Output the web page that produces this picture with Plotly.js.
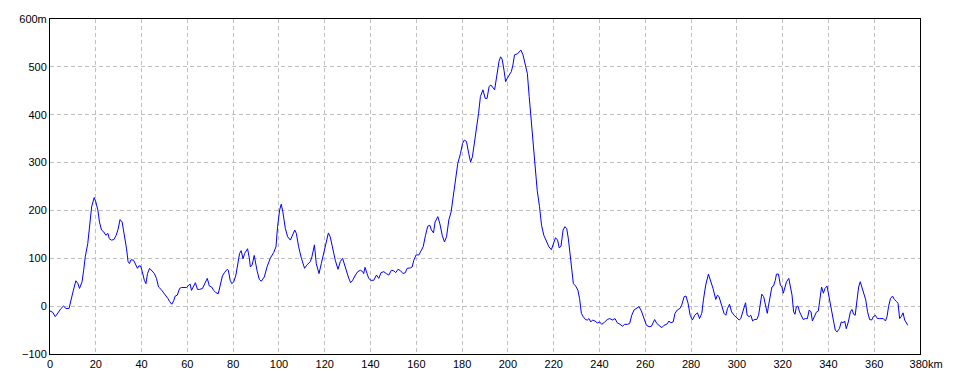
<!DOCTYPE html>
<html>
<head>
<meta charset="utf-8">
<script src="https://cdn.plot.ly/plotly-3.0.1.min.js"></script>
<style>html,body{margin:0;padding:0;background:#fff;}#chart{width:960px;height:384px;}</style>
</head>
<body>
<div id="chart"></div>
<script>
const distanceKm = [0,1.2,2.3,3.6,4.8,5.9,7,8.3,9.2,10.2,11.3,12.2,12.9,14,14.7,15.4,16.5,17.4,18.2,19.3,20,20.9,21.6,22.5,23.5,24.4,25.3,25.9,26.8,27.9,28.9,29.7,30.6,31.5,32.4,33.4,34.1,34.7,35.4,36.5,37.5,38.2,38.8,39.6,40.3,41.2,41.9,42.6,43.5,44.4,45.6,46.5,47.4,48.5,50,51.5,52.2,53.2,54,54.7,55.6,56.6,57.4,58.5,59.7,60.6,61.2,61.8,62.6,63.5,64.4,65.4,66.6,67.6,68.7,69.6,70.6,71.5,72.5,73.5,74.4,75.3,76.2,77.4,77.9,78.7,79.4,80.3,81.2,82.1,82.8,83.5,84.3,85,85.7,86.3,87.1,87.5,88.3,89.2,90.4,91.4,92.3,93.6,94.8,96.2,97.7,98.7,99.4,100.3,101,101.7,102.8,103.8,105,106.1,106.9,107.6,108.6,109.8,111.2,112.2,113.7,114.4,115.5,116.3,117.5,118.5,119.5,120.7,121.6,122.4,123.5,124.6,125.8,126.8,127.8,128.7,129.7,130.5,131.3,132.2,133.4,134.4,135.6,136.6,137,137.6,138.5,139.2,140.2,141.4,142.6,143.6,144.6,145.8,146.9,148,149.1,150.1,151,152,153.1,154.2,155.2,156,157.4,158.2,158.9,159.9,161.1,162.1,163,164,165,165.9,166.6,167.5,168.2,169.4,170.3,171.3,172.3,173.2,174.2,175.2,176.1,177.1,178.1,179.3,180.2,181,181.9,182.9,183.7,184.5,185.4,186.3,187.2,188,189.1,190.1,190.9,191.8,192.6,194.2,195,196.1,196.8,197.5,198.3,199,199.7,200.6,201.5,202.2,202.9,204.1,205,205.7,206.6,207.4,208.5,209.3,210.2,211.1,211.9,212.8,213.8,214.7,215.7,216.8,217.9,219,219.8,220.8,221.7,222.4,223.2,224.1,224.9,225.7,226.4,227.1,227.8,228.6,229.6,230.6,231.3,232.1,232.9,233.9,234.7,235.4,236.2,237,238,239.1,240.1,241,242.3,243.4,244.5,245.6,246.8,247.8,249,250,251,252.2,253.2,254.1,255.1,256.3,257.3,258.3,259.5,260.5,261.7,262.7,263.6,264.1,265,266,267.2,268.2,269.4,270.4,271.1,272.2,273,274,275.1,275.9,277,277.8,278.7,279.6,280.6,281.6,282.8,283.7,284.7,285.4,286.4,287.6,288.6,289.6,290.8,291.5,292.2,293.2,294.4,295.2,295.9,296.8,297.7,298.8,300,301,301.7,302.5,303.2,303.8,304.5,305.4,306.1,306.9,307.6,308.7,309.5,310.2,310.9,311.7,312.4,313.3,313.8,314.6,315.3,316,316.8,317.3,318.2,319,319.7,320.3,321,321.7,322.7,323.5,324.1,324.8,325.4,326,326.7,327.4,328.1,329,329.9,330.8,331.6,332.4,333,333.8,334.7,335.6,336.3,337,337.8,338.5,339.4,340.1,340.8,341.5,342.3,343,343.7,344.8,345.6,346.4,347.1,347.8,348.7,349.6,350.3,351,351.7,352.5,353.2,353.9,354.8,355.5,356.3,357.1,358,358.9,359.6,360.5,361.4,362.2,363.1,364,364.9,365.6,366.3,367.1,368,368.8,369.7,370.4,371.1,371.9,372.6,373.3,374.1,374.6];
const elevationM = [-10,-13,-22,-12,-5,0,-5,-5,16,33,53,47,37,51,75,103,131,180,208,227,218,201,176,159,155,148,152,141,138,139,148,160,181,176,152,121,93,89,97,96,86,79,84,84,72,54,47,68,79,75,68,58,40,35,26,16,10,4,11,21,23,37,39,39,39,44,46,33,40,49,35,35,37,47,58,42,40,33,28,26,42,63,70,77,75,54,47,51,65,86,110,116,99,110,117,120,99,82,86,106,75,56,52,61,82,100,112,124,166,201,213,197,162,145,138,152,159,152,124,100,79,86,93,103,128,89,68,89,110,138,153,145,120,96,77,93,100,86,68,58,49,54,65,72,75,72,68,81,68,58,54,54,65,58,70,72,68,65,75,74,70,77,74,68,70,79,80,82,96,107,107,117,124,148,167,169,159,153,176,187,172,148,134,145,180,197,229,267,298,319,340,347,344,319,301,312,340,368,403,438,452,434,434,459,462,452,480,511,521,516,493,469,476,483,490,504,525,527,532,535,525,511,486,438,389,340,284,242,208,169,148,134,124,118,131,143,138,122,125,159,166,162,141,110,82,47,42,33,16,-15,-22,-28,-29,-26,-33,-29,-31,-35,-33,-38,-33,-28,-26,-29,-26,-35,-38,-42,-38,-38,-36,-19,-8,-5,-1,-10,-26,-40,-43,-42,-33,-28,-36,-40,-45,-40,-38,-31,-35,-33,-15,-8,-5,2,20,21,6,-19,-29,-19,-14,-26,-15,13,44,67,54,37,14,23,20,2,-15,-19,-5,4,-12,-19,-24,-29,-26,-12,2,7,-19,-22,-19,-31,-28,-28,-19,9,25,20,2,-15,0,27,40,42,54,67,67,44,40,27,39,51,58,40,23,-12,-17,-1,0,-12,-19,-28,-26,-26,-8,-12,-31,-24,-13,-10,16,40,27,37,42,23,-1,-15,-33,-50,-54,-47,-33,-35,-31,-47,-33,-12,-7,-17,-19,13,40,51,37,23,13,-12,-28,-29,-22,-19,-26,-26,-26,-26,-31,-22,0,16,21,14,10,6,-26,-21,-14,-29,-35,-40];

const xTickVals = [0,20,40,60,80,100,120,140,160,180,200,220,240,260,280,300,320,340,360,380];
const xTickText = ["0","20","40","60","80","100","120","140","160","180","200","220","240","260","280","300","320","340","360","\u00a0\u00a0\u00a0\u00a0380km"];
const yTickVals = [-100,0,100,200,300,400,500,600];
const yTickText = ["\u2212100","0","100","200","300","400","500","600m"];

const trace = {
  x: distanceKm,
  y: elevationM,
  type: 'scatter',
  mode: 'lines',
  line: {color: '#0000ff', width: 1},
  hoverinfo: 'skip'
};

const axisFont = {family: 'Liberation Sans, Arial, sans-serif', size: 11, color: '#000'};

const layout = {
  width: 960, height: 384,
  margin: {l: 50, r: 40, t: 19, b: 30},
  paper_bgcolor: '#fff', plot_bgcolor: '#fff',
  showlegend: false,
  xaxis: {
    range: [0, 380], tickmode: 'array', tickvals: xTickVals, ticktext: xTickText,
    showgrid: true, gridcolor: '#c0c0c0', griddash: '4px,3px', gridwidth: 1,
    zeroline: false, showline: true, linecolor: '#000', linewidth: 1, mirror: true,
    ticks: '', tickfont: axisFont, tickangle: 0, fixedrange: true
  },
  yaxis: {
    range: [-100, 600], tickmode: 'array', tickvals: yTickVals, ticktext: yTickText,
    showgrid: true, gridcolor: '#c0c0c0', griddash: '4px,3px', gridwidth: 1,
    zeroline: false, showline: true, linecolor: '#000', linewidth: 1, mirror: true,
    ticks: '', tickfont: axisFont, fixedrange: true
  }
};

Plotly.newPlot('chart', [trace], layout, {displayModeBar: false, staticPlot: true});
</script>
</body>
</html>
